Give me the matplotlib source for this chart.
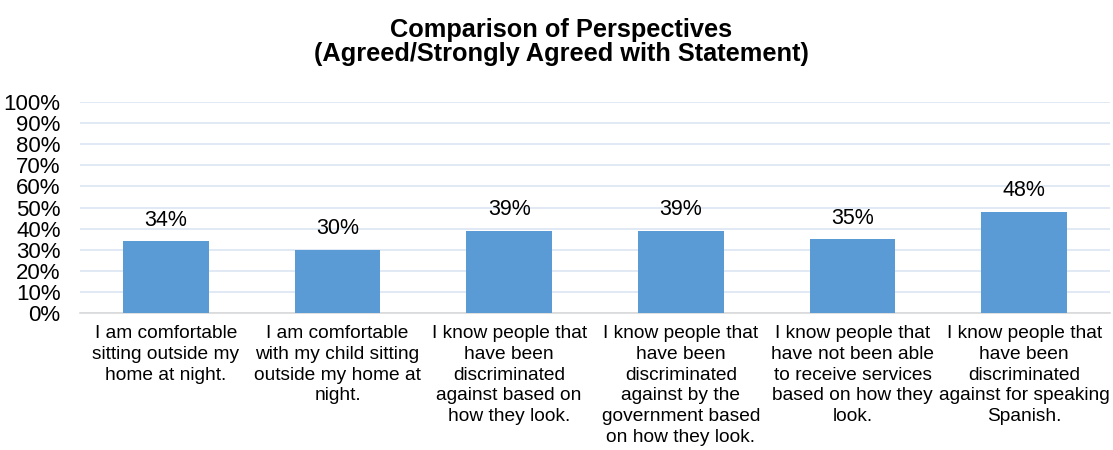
import matplotlib.pyplot as plt
from matplotlib.ticker import PercentFormatter

plt.rcParams['font.family'] = ['Liberation Sans', 'DejaVu Sans']

categories = [
    "I am comfortable\nsitting outside my\nhome at night.",
    "I am comfortable\nwith my child sitting\noutside my home at\nnight.",
    "I know people that\nhave been\ndiscriminated\nagainst based on\nhow they look.",
    "I know people that\nhave been\ndiscriminated\nagainst by the\ngovernment based\non how they look.",
    "I know people that\nhave not been able\nto receive services\nbased on how they\nlook.",
    "I know people that\nhave been\ndiscriminated\nagainst for speaking\nSpanish.",
]
values = [34, 30, 39, 39, 35, 48]
labels = ["34%", "30%", "39%", "39%", "35%", "48%"]
yticks = list(range(0, 101, 10))

fig = plt.figure(figsize=(11.13, 4.5), dpi=100)
ax = fig.add_axes([80/1113, 1-313/450, 1030/1113, 211/450])

x = range(len(values))
bars = ax.bar(x, values, width=0.5, color='#5B9BD5', zorder=3)
for xi, v, lab in zip(x, values, labels):
    ax.annotate(lab, (xi, v), xytext=(0, 11), textcoords='offset points',
                ha='center', va='baseline', fontsize=15.5)

ax.set_xlim(-0.5, len(values) - 0.5)
ax.set_ylim(0, 100)
ax.set_yticks(yticks)
ax.yaxis.set_major_formatter(PercentFormatter(decimals=0))
ax.grid(axis='y', color='#DCE6F2', linewidth=1.2, zorder=0)
for s in ['top', 'right', 'left']:
    ax.spines[s].set_visible(False)
ax.spines['bottom'].set_color('#D9D9D9')
ax.spines['bottom'].set_linewidth(1.2)
ax.tick_params(axis='y', length=0, labelsize=16, pad=14)
ax.tick_params(axis='x', length=0, labelsize=13.8, pad=9)
ax.set_xticks(list(x))
ax.set_xticklabels(categories, linespacing=1.28)

fig.text(0.504, 1 - 42/450, "Comparison of Perspectives\n(Agreed/Strongly Agreed with Statement)",
         ha='center', va='center', fontsize=18.3, fontweight='bold', linespacing=1.0)

fig.savefig('out.png', dpi=100)
